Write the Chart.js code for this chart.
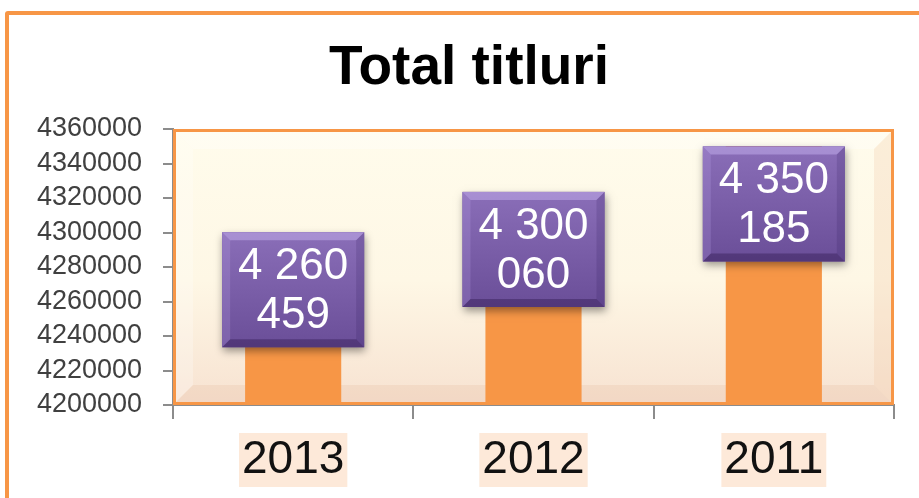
<!DOCTYPE html>
<html>
<head>
<meta charset="utf-8">
<script src="https://cdn.jsdelivr.net/npm/chart.js@4.4.1/dist/chart.umd.min.js"></script>
<style>
  html, body { margin: 0; padding: 0; background: #fff; overflow: hidden; }
  #frame {
    position: absolute; left: 5px; top: 11px; width: 1000px; height: 600px;
    border: 4px solid #f79646; border-radius: 3px; box-sizing: border-box;
  }
  #wrap { position: absolute; left: 0; top: 0; width: 919px; height: 498px; }
</style>
</head>
<body>
<div id="frame"></div>
<div id="wrap"><canvas id="chart"></canvas></div>
<script>
const title = "Total titluri";
const years = ["2013", "2012", "2011"];
const totals = [4260459, 4300060, 4350185];
const yMin = 4200000;
const yMax = 4360000;
const yStep = 20000;

// "4260459" -> ["4 260", "459"]
function splitLabel(v) {
  const s = String(v).replace(/\B(?=(\d{3})+(?!\d))/g, " ");
  const i = s.lastIndexOf(" ");
  return [s.slice(0, i), s.slice(i + 1)];
}

function poly(ctx, pts, fill) {
  ctx.beginPath();
  ctx.moveTo(pts[0][0], pts[0][1]);
  pts.slice(1).forEach((p) => ctx.lineTo(p[0], p[1]));
  ctx.closePath();
  ctx.fillStyle = fill;
  ctx.fill();
}

const decor = {
  id: "decor",
  beforeDraw(chart) {
    const { ctx, chartArea: a } = chart;
    const x = a.left, y = a.top, w = a.right - a.left, h = a.bottom - a.top, b = 20;
    ctx.save();
    const g = ctx.createLinearGradient(0, y, 0, y + h);
    g.addColorStop(0, "#fffcec");
    g.addColorStop(0.55, "#fef7e5");
    g.addColorStop(1, "#f7e2d1");
    ctx.fillStyle = g;
    ctx.fillRect(x, y, w, h);
    // soft bevel: light top-left, warmer right and bottom
    poly(ctx, [[x, y], [x + w, y], [x + w - b, y + b], [x + b, y + b]], "rgba(255,255,255,0.3)");
    poly(ctx, [[x, y], [x + b, y + b], [x + b, y + h - b], [x, y + h]], "rgba(255,255,255,0.25)");
    poly(ctx, [[x + w, y], [x + w, y + h], [x + w - b, y + h - b], [x + w - b, y + b]], "rgba(240,200,170,0.28)");
    poly(ctx, [[x, y + h], [x + w, y + h], [x + w - b, y + h - b], [x + b, y + h - b]], "rgba(225,175,145,0.2)");
    // title
    ctx.fillStyle = "#000";
    ctx.font = "bold 55px 'Liberation Sans', Arial, sans-serif";
    ctx.textAlign = "center";
    ctx.textBaseline = "alphabetic";
    ctx.fillText(title, 469, 84);
    ctx.restore();
  },
  afterDatasetsDraw(chart, args, opts) {
    const { ctx, chartArea: a } = chart;
    ctx.save();
    ctx.strokeStyle = "#f79646";
    ctx.lineWidth = 3;
    ctx.strokeRect(a.left + 1.5, a.top + 1.5, a.right - a.left - 3, a.bottom - a.top - 3);

    const meta = chart.getDatasetMeta(0);
    meta.data.forEach((el, i) => {
      const bw = 142, bh = 115, bv = 8;
      const cx = el.x, cy = el.y + opts.labelShift[i];
      const x = cx - bw / 2, y = cy - bh / 2;
      ctx.save();
      ctx.shadowColor = "rgba(0,0,0,0.4)";
      ctx.shadowBlur = 8;
      ctx.shadowOffsetX = 1;
      ctx.shadowOffsetY = 4;
      ctx.fillStyle = "#6f53a0";
      ctx.fillRect(x, y, bw, bh);
      ctx.restore();
      const g = ctx.createLinearGradient(0, y, 0, y + bh);
      g.addColorStop(0, "#8a6eb8");
      g.addColorStop(1, "#6a4e98");
      ctx.fillStyle = g;
      ctx.fillRect(x, y, bw, bh);
      poly(ctx, [[x, y], [x + bw, y], [x + bw - bv, y + bv], [x + bv, y + bv]], "rgba(205,185,245,0.45)");
      poly(ctx, [[x, y], [x + bv, y + bv], [x + bv, y + bh - bv], [x, y + bh]], "rgba(190,170,235,0.22)");
      poly(ctx, [[x + bw, y], [x + bw, y + bh], [x + bw - bv, y + bh - bv], [x + bw - bv, y + bv]], "rgba(40,20,80,0.16)");
      poly(ctx, [[x, y + bh], [x + bw, y + bh], [x + bw - bv, y + bh - bv], [x + bv, y + bh - bv]], "rgba(30,10,60,0.32)");

      const lines = splitLabel(totals[i]);
      ctx.fillStyle = "#fff";
      ctx.font = "44px 'Liberation Sans', Arial, sans-serif";
      ctx.textAlign = "center";
      ctx.textBaseline = "middle";
      ctx.fillText(lines[0], cx, cy - 23);
      ctx.fillText(lines[1], cx, cy + 26);
    });
    ctx.restore();
  },
};

new Chart(document.getElementById("chart"), {
  type: "bar",
  data: {
    labels: years,
    datasets: [
      {
        data: totals,
        backgroundColor: "#f79646",
        borderWidth: 0,
        barPercentage: 0.4,
        categoryPercentage: 1,
      },
    ],
  },
  options: {
    responsive: true,
    maintainAspectRatio: false,
    animation: false,
    layout: { padding: { top: 129, right: 25, bottom: 0, left: 0 } },
    plugins: {
      legend: { display: false },
      tooltip: { enabled: false },
      decor: { labelShift: [-11, 17, 58] },
    },
    scales: {
      x: {
        afterFit: (s) => { s.height = 93; },
        grid: {
          offset: true,
          drawOnChartArea: false,
          color: "#8c8c8c",
          lineWidth: 2,
          tickLength: 14,
        },
        border: { color: "#8c8c8c", width: 2 },
        ticks: {
          color: "#111",
          padding: 15,
          font: { family: "'Liberation Sans', Arial, sans-serif", size: 46, lineHeight: 1.13 },
          showLabelBackdrop: true,
          backdropColor: "#fde9d9",
          backdropPadding: { top: 1, bottom: 1, left: 3, right: 3 },
        },
      },
      y: {
        min: yMin,
        max: yMax,
        afterFit: (s) => { s.width = 173; },
        grid: {
          drawOnChartArea: false,
          color: "#8c8c8c",
          lineWidth: 2,
          tickLength: 10,
        },
        border: { color: "#8c8c8c", width: 2 },
        ticks: {
          stepSize: yStep,
          autoSkip: false,
          color: "#404040",
          padding: 21,
          font: { family: "'Liberation Sans', Arial, sans-serif", size: 27, lineHeight: 1 },
          callback: (v) => String(v),
        },
      },
    },
  },
  plugins: [decor],
});
</script>
</body>
</html>
